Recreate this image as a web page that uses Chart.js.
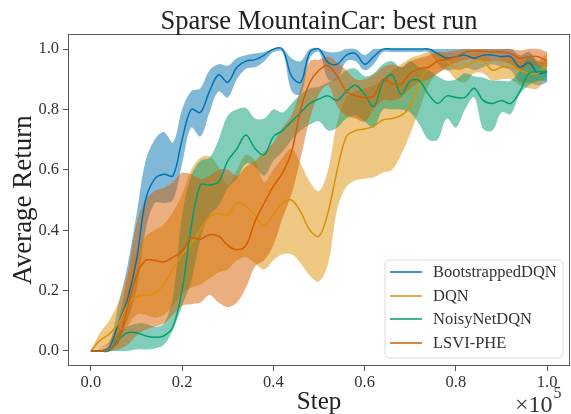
<!DOCTYPE html>
<html>
<head>
<meta charset="utf-8">
<script src="https://cdn.jsdelivr.net/npm/chart.js@4.4.1/dist/chart.umd.min.js"></script>
<style>
  html, body { margin: 0; padding: 0; background: #fff; }
  #wrap { width: 571px; height: 414px; }
</style>
</head>
<body>
<div id="wrap"><canvas id="chart" width="571" height="414"></canvas></div>
<script>
var FONT = "'Liberation Serif', 'DejaVu Serif', serif";
var TITLE = 'Sparse MountainCar: best run';

var steps = [0.00, 0.02, 0.04, 0.06, 0.08, 0.10, 0.12, 0.14, 0.16, 0.18, 0.20,
    0.22, 0.24, 0.26, 0.28, 0.30, 0.32, 0.34, 0.36, 0.38, 0.40,
    0.42, 0.44, 0.46, 0.48, 0.50, 0.52, 0.54, 0.56, 0.58, 0.60,
    0.62, 0.64, 0.66, 0.68, 0.70, 0.72, 0.74, 0.76, 0.78, 0.80,
    0.82, 0.84, 0.86, 0.88, 0.90, 0.92, 0.94, 0.96, 0.98, 1.00];
var xTicks = [0.0, 0.2, 0.4, 0.6, 0.8, 1.0];
var yTicks = [0.0, 0.2, 0.4, 0.6, 0.8, 1.0];

var seriesNames = ['BootstrappedDQN', 'DQN', 'NoisyNetDQN', 'LSVI-PHE'];
var seriesColors = ['#0173b2', '#de8f05', '#029e73', '#d55e00'];
var bandColors = ['rgba(1,115,178,0.5)', 'rgba(222,143,5,0.5)', 'rgba(2,158,115,0.5)', 'rgba(213,94,0,0.5)'];

// BootstrappedDQN
var bootMean = [0, 0, 0.01, 0.09, 0.17, 0.30, 0.50, 0.57, 0.585, 0.58, 0.70,
    0.80, 0.79, 0.86, 0.915, 0.89, 0.94, 0.96, 0.965, 0.98, 1.0,
    1.0, 0.91, 0.89, 0.99, 1.0, 0.955, 0.95, 0.98, 0.985, 0.95,
    0.975, 1.0, 1.0, 1.0, 1.0, 1.0, 1.0, 0.985, 0.97, 0.975,
    0.98, 0.97, 0.98, 0.98, 0.975, 0.975, 0.94, 0.955, 0.92, 0.925];
var bootUpper = [0, 0, 0.02, 0.15, 0.28, 0.45, 0.63, 0.70, 0.725, 0.69, 0.80,
    0.86, 0.87, 0.93, 0.95, 0.945, 0.97, 0.98, 0.985, 0.99, 1.0,
    1.0, 0.97, 0.96, 1.0, 1.0, 0.99, 0.99, 1.0, 1.0, 0.98,
    1.0, 1.0, 1.0, 1.0, 1.0, 1.0, 1.0, 1.0, 1.0, 1.0,
    1.0, 1.0, 1.0, 1.0, 1.0, 1.0, 0.98, 0.99, 0.96, 0.96];
var bootLower = [0, 0, 0, 0.04, 0.10, 0.20, 0.40, 0.49, 0.49, 0.50, 0.62,
    0.74, 0.71, 0.79, 0.86, 0.84, 0.90, 0.935, 0.94, 0.96, 0.99,
    0.99, 0.86, 0.85, 0.97, 0.99, 0.90, 0.90, 0.96, 0.96, 0.93,
    0.95, 0.99, 0.99, 0.99, 0.99, 0.99, 0.99, 0.95, 0.93, 0.935,
    0.94, 0.93, 0.94, 0.95, 0.94, 0.93, 0.89, 0.89, 0.88, 0.89];

// DQN
var dqnMean = [0, 0.035, 0.055, 0.09, 0.15, 0.18, 0.185, 0.19, 0.22, 0.27, 0.32,
    0.355, 0.40, 0.445, 0.455, 0.45, 0.49, 0.48, 0.45, 0.415, 0.45,
    0.49, 0.50, 0.46, 0.40, 0.38, 0.46, 0.60, 0.71, 0.73, 0.735,
    0.745, 0.765, 0.77, 0.78, 0.81, 0.89, 0.94, 0.96, 0.96, 0.935,
    0.94, 0.96, 0.96, 0.93, 0.94, 0.94, 0.93, 0.92, 0.92, 0.955];
var dqnUpper = [0, 0.06, 0.10, 0.16, 0.25, 0.33, 0.38, 0.40, 0.42, 0.46, 0.52,
    0.60, 0.64, 0.645, 0.61, 0.55, 0.60, 0.65, 0.63, 0.56, 0.60,
    0.64, 0.67, 0.62, 0.56, 0.53, 0.60, 0.76, 0.84, 0.86, 0.87,
    0.88, 0.90, 0.93, 0.95, 0.97, 0.98, 0.99, 0.99, 0.98, 0.97,
    0.975, 0.985, 0.985, 0.96, 0.97, 0.975, 0.97, 0.96, 0.96, 0.985];
var dqnLower = [0, 0.01, 0.02, 0.04, 0.08, 0.12, 0.12, 0.11, 0.12, 0.15, 0.19,
    0.21, 0.22, 0.24, 0.26, 0.27, 0.30, 0.31, 0.29, 0.27, 0.30,
    0.32, 0.32, 0.29, 0.25, 0.23, 0.29, 0.47, 0.545, 0.565, 0.57,
    0.575, 0.59, 0.60, 0.65, 0.72, 0.80, 0.88, 0.92, 0.93, 0.90,
    0.89, 0.92, 0.92, 0.895, 0.90, 0.90, 0.88, 0.87, 0.87, 0.92];

// NoisyNetDQN
var noisyMean = [0, 0, 0, 0.035, 0.06, 0.06, 0.05, 0.045, 0.05, 0.08, 0.20,
    0.41, 0.55, 0.55, 0.56, 0.63, 0.67, 0.715, 0.67, 0.65, 0.71,
    0.73, 0.76, 0.79, 0.82, 0.835, 0.845, 0.83, 0.86, 0.88, 0.85,
    0.81, 0.89, 0.915, 0.85, 0.895, 0.895, 0.85, 0.82, 0.845, 0.84,
    0.84, 0.87, 0.83, 0.82, 0.83, 0.82, 0.86, 0.92, 0.925, 0.925];
var noisyUpper = [0, 0, 0.005, 0.06, 0.08, 0.09, 0.09, 0.08, 0.09, 0.18, 0.45,
    0.58, 0.63, 0.64, 0.70, 0.78, 0.80, 0.805, 0.77, 0.77, 0.80,
    0.79, 0.82, 0.85, 0.87, 0.875, 0.89, 0.905, 0.93, 0.935, 0.91,
    0.92, 0.95, 0.96, 0.94, 0.96, 0.94, 0.93, 0.91, 0.895, 0.90,
    0.92, 0.91, 0.905, 0.895, 0.895, 0.895, 0.93, 0.975, 0.95, 0.93];
var noisyLower = [0, 0, 0, 0, 0, 0.005, 0.005, 0.008, 0.02, 0.07, 0.15,
    0.23, 0.37, 0.45, 0.48, 0.54, 0.57, 0.62, 0.61, 0.58, 0.63,
    0.66, 0.70, 0.73, 0.75, 0.76, 0.73, 0.74, 0.77, 0.78, 0.76,
    0.74, 0.80, 0.80, 0.80, 0.79, 0.75, 0.70, 0.70, 0.77, 0.74,
    0.80, 0.84, 0.735, 0.73, 0.79, 0.785, 0.85, 0.88, 0.895, 0.895];

// LSVI-PHE
var lsviMean = [0, 0, 0.005, 0.03, 0.14, 0.25, 0.30, 0.30, 0.295, 0.31, 0.33,
    0.375, 0.37, 0.385, 0.38, 0.35, 0.335, 0.35, 0.43, 0.49, 0.545,
    0.59, 0.66, 0.80, 0.89, 0.93, 0.945, 0.91, 0.86, 0.845, 0.84,
    0.845, 0.90, 0.885, 0.885, 0.92, 0.935, 0.94, 0.96, 0.965, 0.975,
    0.99, 0.993, 0.993, 0.99, 0.99, 0.985, 0.97, 0.975, 0.975, 0.96];
var lsviUpper = [0, 0.01, 0.03, 0.10, 0.25, 0.42, 0.50, 0.53, 0.54, 0.56, 0.59,
    0.585, 0.57, 0.58, 0.60, 0.60, 0.58, 0.61, 0.63, 0.66, 0.69,
    0.74, 0.78, 0.87, 0.96, 0.965, 0.975, 0.955, 0.93, 0.90, 0.90,
    0.915, 0.94, 0.95, 0.94, 0.96, 0.97, 0.98, 0.99, 0.99, 0.995,
    1.0, 1.0, 1.0, 1.0, 1.0, 1.0, 0.995, 1.0, 1.0, 0.99];
var lsviLower = [0, 0, 0, 0.005, 0.02, 0.05, 0.07, 0.08, 0.09, 0.12, 0.15,
    0.155, 0.16, 0.185, 0.16, 0.145, 0.16, 0.21, 0.28, 0.30, 0.35,
    0.44, 0.52, 0.64, 0.77, 0.85, 0.88, 0.81, 0.78, 0.77, 0.76,
    0.80, 0.83, 0.83, 0.84, 0.87, 0.89, 0.90, 0.92, 0.94, 0.955,
    0.965, 0.965, 0.96, 0.96, 0.96, 0.95, 0.93, 0.945, 0.945, 0.94];

var means = [bootMean, dqnMean, noisyMean, lsviMean];
var uppers = [bootUpper, dqnUpper, noisyUpper, lsviUpper];
var lowers = [bootLower, dqnLower, noisyLower, lsviLower];

function toPoints(arr) {
    return steps.map(function (x, i) { return {x: x, y: arr[i]}; });
}

var TENSION = 0.35;
var datasets = [];
// bands first, later series drawn over earlier ones (higher order = drawn first)
for (var k = 0; k < seriesNames.length; k++) {
    var base = datasets.length;
    datasets.push({
        label: '', data: toPoints(uppers[k]), showLine: true,
        borderColor: 'rgba(0,0,0,0)', backgroundColor: bandColors[k],
        pointRadius: 0, tension: TENSION, fill: {target: base + 1},
        order: 8 - k
    });
    datasets.push({
        label: '', data: toPoints(lowers[k]), showLine: true,
        borderColor: 'rgba(0,0,0,0)', backgroundColor: bandColors[k],
        pointRadius: 0, tension: TENSION, fill: false,
        order: 8 - k
    });
}
// mean lines on top of every band
for (var k = 0; k < seriesNames.length; k++) {
    datasets.push({
        label: seriesNames[k], data: toPoints(means[k]), showLine: true,
        borderColor: seriesColors[k], borderWidth: 1.5,
        pointRadius: 0, tension: TENSION, fill: false,
        order: 4 - k
    });
}

// frame around the plot, like matplotlib spines
var framePlugin = {
    id: 'frame',
    afterDatasetsDraw: function (chart) {
        var a = chart.chartArea, c = chart.ctx;
        c.save();
        c.strokeStyle = '#555';
        c.lineWidth = 1;
        c.strokeRect(a.left + 0.5, a.top + 0.5, a.right - a.left - 1, a.bottom - a.top - 1);
        c.restore();
    }
};

// title over the axes, legend box in the lower right corner, x10^5 offset label
var extrasPlugin = {
    id: 'extras',
    afterDraw: function (chart) {
        var c = chart.ctx, a = chart.chartArea;
        c.save();
        // title, centred on the axes like matplotlib
        c.fillStyle = '#222';
        c.font = '26.5px ' + FONT;
        c.textAlign = 'center';
        c.textBaseline = 'alphabetic';
        c.fillText(TITLE, (a.left + a.right) / 2, 29);

        // legend
        var bx = 385, by = 260, bw = 178, bh = 98, r = 4;
        c.beginPath();
        c.moveTo(bx + r, by);
        c.arcTo(bx + bw, by, bx + bw, by + bh, r);
        c.arcTo(bx + bw, by + bh, bx, by + bh, r);
        c.arcTo(bx, by + bh, bx, by, r);
        c.arcTo(bx, by, bx + bw, by, r);
        c.closePath();
        c.fillStyle = 'rgba(255,255,255,0.85)';
        c.fill();
        c.strokeStyle = '#dcdcdc';
        c.lineWidth = 1;
        c.stroke();
        var rows = [272, 296, 319, 343];
        c.font = '16.5px ' + FONT;
        c.textBaseline = 'middle';
        c.textAlign = 'left';
        for (var i = 0; i < seriesNames.length; i++) {
            c.strokeStyle = seriesColors[i];
            c.lineWidth = 1.5;
            c.beginPath();
            c.moveTo(390, rows[i]);
            c.lineTo(422, rows[i]);
            c.stroke();
            c.fillStyle = '#333';
            c.fillText(seriesNames[i], 433, rows[i] + 1);
        }

        // x10^5
        c.fillStyle = '#333';
        c.textBaseline = 'alphabetic';
        c.font = '24px ' + FONT;
        c.fillText('\u00d710', 515, 412);
        var w = c.measureText('\u00d710').width;
        c.font = '16px ' + FONT;
        c.fillText('5', 515 + w + 1, 398);
        c.restore();
    }
};

function setTicks(values) {
    return function (scale) {
        scale.ticks = values.map(function (v) { return {value: v}; });
    };
}

new Chart(document.getElementById('chart').getContext('2d'), {
    type: 'scatter',
    data: {datasets: datasets},
    options: {
        responsive: false,
        animation: false,
        devicePixelRatio: 1,
        layout: {padding: {top: 34, right: 1, bottom: 0, left: 0}},
        plugins: {
            legend: {display: false},
            tooltip: {enabled: false},
            title: {display: false}
        },
        scales: {
            x: {
                type: 'linear',
                min: -0.05,
                max: 1.05,
                afterBuildTicks: setTicks(xTicks),
                afterFit: function (scale) { scale.height = 48; },
                border: {display: false},
                grid: {drawOnChartArea: false, drawTicks: true, tickLength: 5, color: '#555'},
                ticks: {
                    color: '#333',
                    padding: 2,
                    maxRotation: 0,
                    font: {family: FONT, size: 16.5},
                    callback: function (v) { return Number(v).toFixed(1); }
                },
                title: {
                    display: true,
                    text: 'Step',
                    color: '#222',
                    font: {family: FONT, size: 25, lineHeight: 1.0},
                    padding: {top: 0, bottom: -1}
                }
            },
            y: {
                type: 'linear',
                min: -0.05,
                max: 1.05,
                afterBuildTicks: setTicks(yTicks),
                afterFit: function (scale) { scale.width = 68; },
                border: {display: false},
                grid: {drawOnChartArea: false, drawTicks: true, tickLength: 5, color: '#555'},
                ticks: {
                    color: '#333',
                    padding: 4,
                    font: {family: FONT, size: 16.5},
                    callback: function (v) { return Number(v).toFixed(1); }
                },
                title: {
                    display: true,
                    text: 'Average Return',
                    color: '#222',
                    font: {family: FONT, size: 27, lineHeight: 1.0},
                    padding: {top: 10, bottom: 0}
                }
            }
        }
    },
    plugins: [framePlugin, extrasPlugin]
});
</script>
</body>
</html>
